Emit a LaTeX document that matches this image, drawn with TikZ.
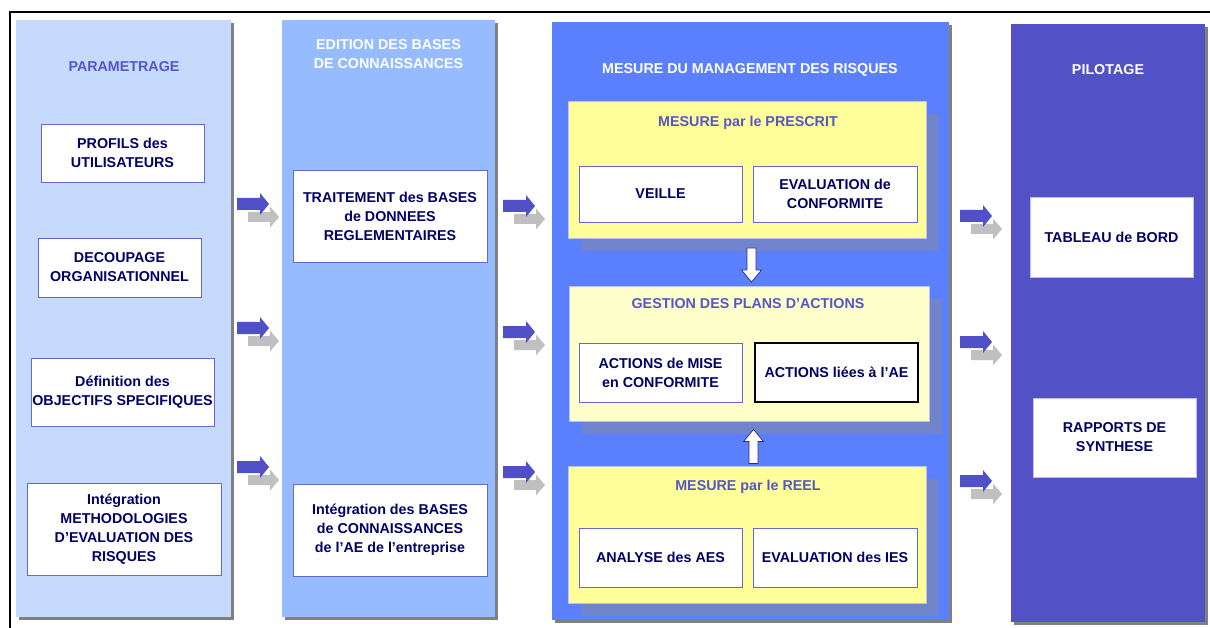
\documentclass[tikz,border=0pt]{standalone}
\usepackage{fontspec}
\setmainfont{Liberation Sans}
\usetikzlibrary{shadows}
\definecolor{colA}{RGB}{198,218,254}
\definecolor{colB}{RGB}{150,187,255}
\definecolor{colC}{RGB}{91,128,255}
\definecolor{colD}{RGB}{82,82,198}
\definecolor{boxtext}{RGB}{0,0,102}
\definecolor{titleblue}{RGB}{85,85,204}
\definecolor{arrowblue}{RGB}{80,80,200}
\definecolor{arrowgray}{RGB}{192,192,192}
\definecolor{colshadow}{RGB}{128,128,128}
\definecolor{yshadow}{RGB}{112,132,204}
\definecolor{yelA}{RGB}{255,255,153}
\definecolor{yelB}{RGB}{255,255,204}
\definecolor{boxborder}{RGB}{102,102,214}
\definecolor{lightborder}{RGB}{190,190,240}
\definecolor{varrowline}{RGB}{40,40,140}
\begin{document}
\begin{tikzpicture}[x=1pt,y=-1pt,
  wh/.style 2 args={minimum width=#1pt, minimum height=#2pt},
  txt/.style={font=\fontsize{14.3}{19}\selectfont\bfseries, align=center},
  column/.style={inner sep=0pt, draw=none, general shadow={shadow xshift=3pt, shadow yshift=-3pt, fill=colshadow}},
  coltitle/.style={txt, text=white},
  bluetitle/.style={txt, text=titleblue},
  wbox/.style={txt, inner sep=0pt, fill=white, draw=boxborder, line width=0.8pt, text=boxtext},
  yelbox/.style={inner sep=0pt, draw=lightborder, line width=0.8pt, general shadow={shadow xshift=13pt, shadow yshift=-13pt, fill=yshadow}},
  blockarrow/.pic={
    \fill[arrowgray] (-5,8) -- (17,8) -- (17,2.5) -- (26,13) -- (17,23.5) -- (17,18) -- (-5,18) -- cycle;
    \fill[arrowblue] (-16,-6) -- (7,-6) -- (7,-11) -- (16,0) -- (7,11) -- (7,6) -- (-16,6) -- cycle;
  },
  varrow/.pic={
    \filldraw[fill=white, draw=varrowline, line width=0.7pt] (-4.5,-17) -- (4.5,-17) -- (4.5,5) -- (10,5) -- (0,17) -- (-10,5) -- (-4.5,5) -- cycle;
  }
]
\useasboundingbox (0,0) rectangle (1210,628);
\fill[white] (0,0) rectangle (1210,628);

% frame
\coordinate (fTL) at (10,12);
\coordinate (fTR) at (1210,12);
\coordinate (fBL) at (10,628);
\draw[line width=2pt] (fTR) -- (fTL) -- (fBL);

% columns
\node[column, fill=colA, wh={215}{597}] (c1) at (123.5,318.5) {};
\node[column, fill=colB, wh={213}{597}] (c2) at (388.5,318.5) {};
\node[column, fill=colC, wh={397}{598}] (c3) at (750.5,321) {};
\node[column, fill=colD, wh={194}{598}] (c4) at (1108,323) {};

% column titles
\node[bluetitle] (t1) at (124,67) {PARAMETRAGE};
\node[coltitle] (t2) at (388.5,54.5) {EDITION DES BASES\\DE CONNAISSANCES};
\node[coltitle] (t3) at (750,70) {MESURE DU MANAGEMENT DES RISQUES};
\node[coltitle] (t4) at (1108,70) {PILOTAGE};

% column 1 boxes
\node[wbox, wh={163}{58}] (p1) at (122.5,153) {PROFILS des\\UTILISATEURS};
\node[wbox, wh={163}{59}] (p2) at (119.5,267.5) {DECOUPAGE\\ORGANISATIONNEL};
\node[wbox, wh={183}{68}] (p3) at (122.5,392) {Définition des\\OBJECTIFS SPECIFIQUES};
\node[wbox, wh={194}{92}] (p4) at (124,529) {Intégration\\METHODOLOGIES\\D’EVALUATION DES\\RISQUES};

% column 2 boxes
\node[wbox, wh={194}{92}] (e1) at (390,216) {TRAITEMENT des BASES\\de DONNEES\\REGLEMENTAIRES};
\node[wbox, wh={194}{92}] (e2) at (390,530) {Intégration des BASES\\de CONNAISSANCES\\de l’AE de l’entreprise};

% column 3 yellow boxes
\node[yelbox, fill=yelA, wh={358}{137}] (y1) at (747,169.5) {};
\node[yelbox, fill=yelB, wh={360}{135}] (y2) at (749,353.5) {};
\node[yelbox, fill=yelA, wh={358}{137}] (y3) at (747,534.5) {};

\node[bluetitle] (yt1) at (748,123) {MESURE par le PRESCRIT};
\node[bluetitle] (yt2) at (748,304) {GESTION DES PLANS D’ACTIONS};
\node[bluetitle] (yt3) at (748,487) {MESURE par le REEL};

\node[wbox, wh={163}{56}] (m1) at (660.5,194) {VEILLE};
\node[wbox, wh={164}{56}] (m2) at (835,194) {EVALUATION de\\CONFORMITE};
\node[wbox, wh={163}{59}] (m3) at (660.5,372.5) {ACTIONS de MISE\\en CONFORMITE};
\node[wbox, draw=black, line width=1.2pt, wh={163}{59}] (m4) at (836.5,372.5) {ACTIONS liées à l’AE};
\node[wbox, wh={163}{59}] (m5) at (660.5,557.5) {ANALYSE des AES};
\node[wbox, wh={164}{59}] (m6) at (835,557.5) {EVALUATION des IES};

% column 4 boxes
\node[wbox, draw=lightborder, wh={163}{80}] (r1) at (1111.5,237) {TABLEAU de BORD};
\node[wbox, draw=lightborder, wh={163}{79}] (r2) at (1114.5,437.5) {RAPPORTS DE\\SYNTHESE};

% block arrows between columns
\foreach \x/\y in {253/204, 253/328, 253/467,
                   519/206, 519/332, 519/472,
                   976/216, 976/342, 976/481}
  \pic at (\x,\y) {blockarrow};

% vertical arrows in column 3
\pic at (751.5,265) {varrow};
\pic[rotate=180] at (753.5,446.5) {varrow};
\end{tikzpicture}
\end{document}
